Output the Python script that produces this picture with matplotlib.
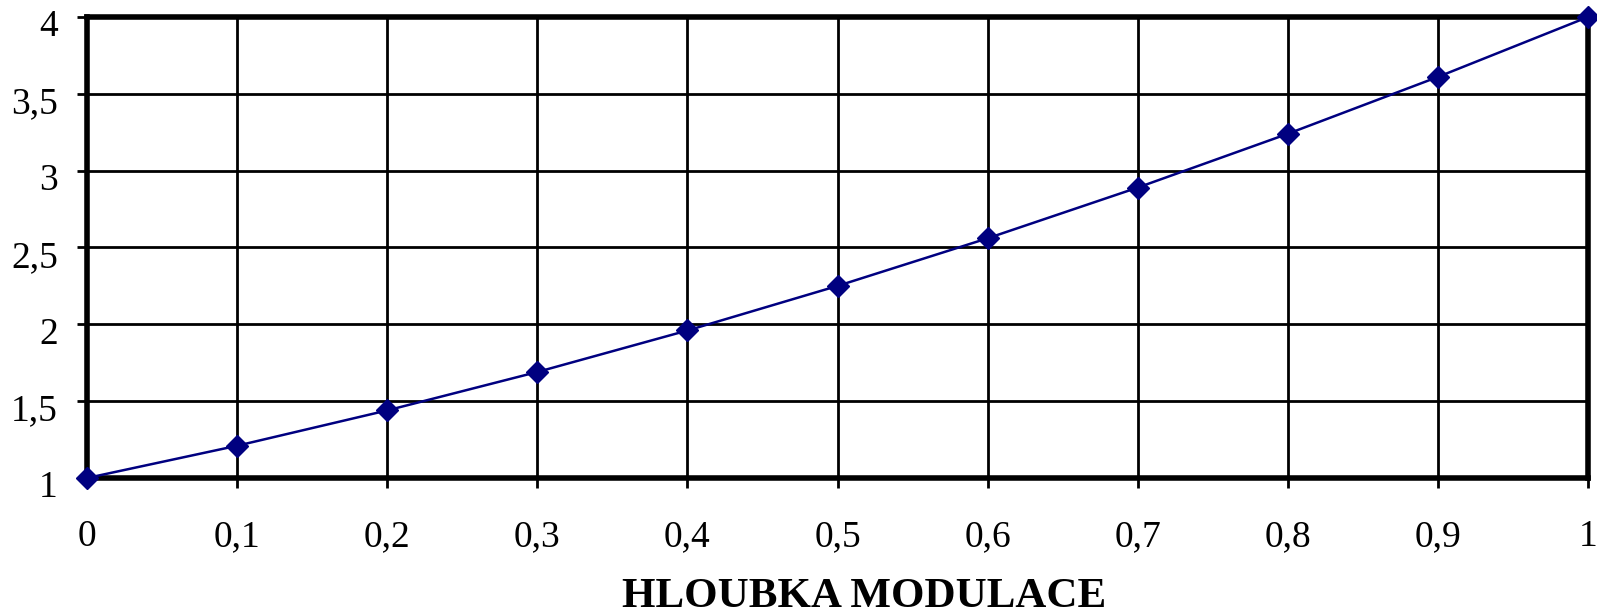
import matplotlib
matplotlib.use("Agg")
import matplotlib.pyplot as plt
from matplotlib.ticker import MultipleLocator, FuncFormatter
from matplotlib.transforms import ScaledTranslation

# modulation depth and the corresponding ratio
hloubka = [0.0, 0.1, 0.2, 0.3, 0.4, 0.5, 0.6, 0.7, 0.8, 0.9, 1.0]
pomer = [1.0, 1.21, 1.44, 1.69, 1.96, 2.25, 2.56, 2.89, 3.24, 3.61, 4.0]

plt.rcParams['font.family'] = ['Liberation Serif', 'DejaVu Serif']

fig = plt.figure(figsize=(15.97, 6.13), dpi=100)
ax = fig.add_axes([0.0545, 0.2202, 0.9399, 0.7521])

ax.plot(hloubka, pomer, color='#000080', linewidth=1.8, marker='D',
        markersize=11, markerfacecolor='#000080', markeredgecolor='#000080',
        clip_on=False, zorder=5)

ax.set_xlim(0, 1)
ax.set_ylim(1, 4)
ax.xaxis.set_major_locator(MultipleLocator(0.1))
ax.yaxis.set_major_locator(MultipleLocator(0.5))

# decimal comma labels
def carka(v, pos):
    s = f"{v:.1f}".rstrip('0').rstrip('.')
    return s.replace('.', ',')

ax.xaxis.set_major_formatter(FuncFormatter(carka))
ax.yaxis.set_major_formatter(FuncFormatter(carka))

ax.grid(True, color='black', linewidth=2)
ax.set_axisbelow(True)
for s in ax.spines.values():
    s.set_linewidth(4)
    s.set_color('black')

ax.tick_params(axis='both', direction='out', length=7, width=2,
               colors='black', labelsize=27)
ax.tick_params(axis='x', pad=23)
ax.tick_params(axis='y', pad=14)

# y labels sit a little below their ticks
posun = ScaledTranslation(0, -0.06, fig.dpi_scale_trans)
for lab in ax.get_yticklabels():
    lab.set_transform(lab.get_transform() + posun)

ax.set_xlabel('HLOUBKA MODULACE', fontsize=31, fontweight='bold', labelpad=17)
ax.xaxis.label.set_x(0.518)

fig.savefig('out.png', dpi=100)
